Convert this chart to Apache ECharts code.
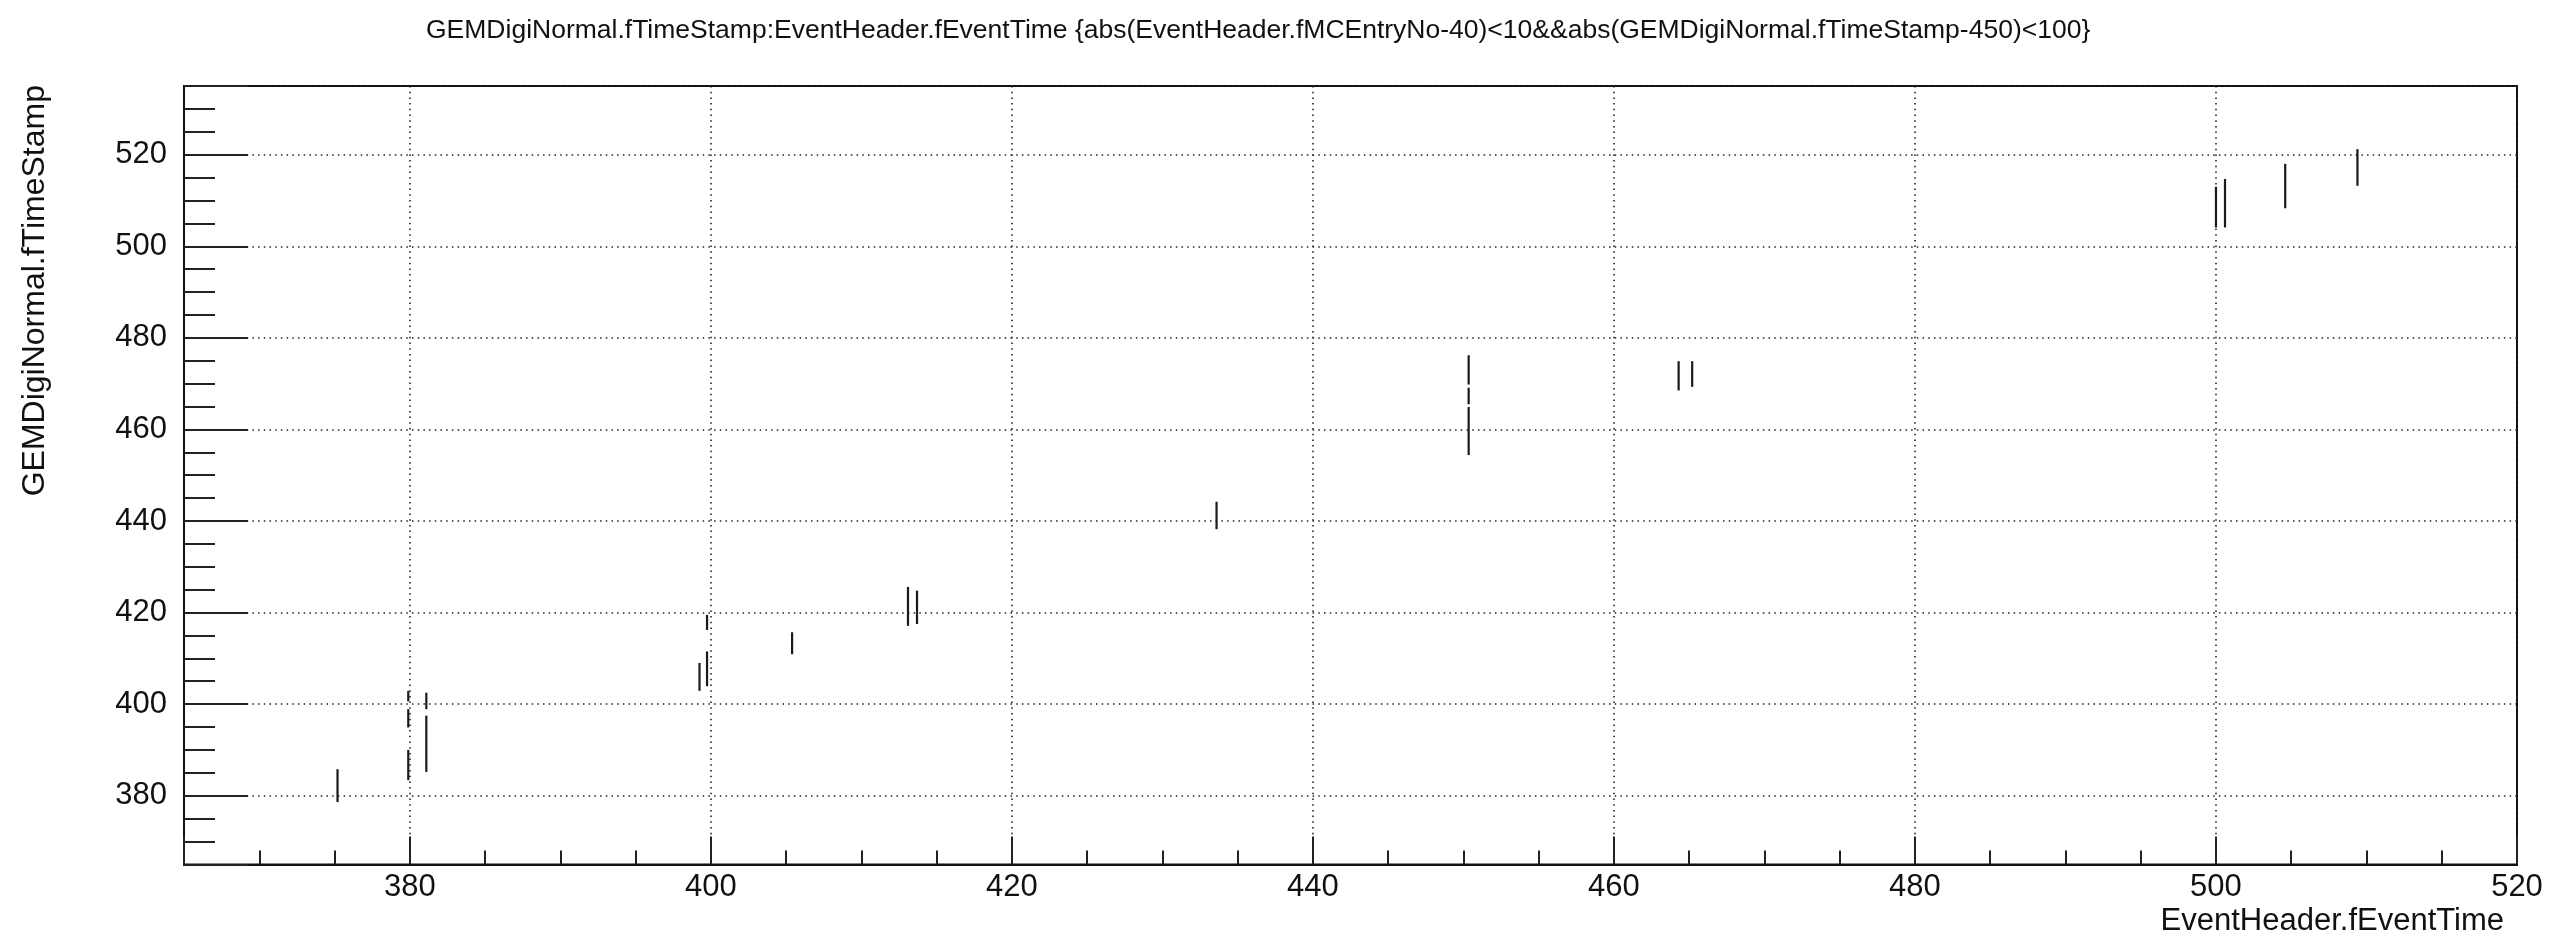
<!DOCTYPE html>
<html>
<head>
<meta charset="utf-8">
<script src="https://cdn.jsdelivr.net/npm/echarts@6/dist/echarts.min.js"></script>
<style>
html, body { margin: 0; padding: 0; background: #fff; }
#main { width: 2566px; height: 938px; }
</style>
</head>
<body>
<div id="main"></div>
<script>
// each mark is a vertical run of hits: x = event time, from stampLow to stampHigh
var eventTime = [375.2, 379.9, 379.9, 379.9, 381.1, 381.1, 399.25, 399.75, 399.75, 405.4, 413.1, 413.7,
  433.6, 450.35, 450.35, 450.35, 464.3, 465.2, 500.0, 500.6, 504.6, 509.4];
var stampLow = [378.6, 383.4, 394.9, 400.6, 385.2, 398.9, 402.9, 403.9, 416.2, 410.9, 417.1, 417.5,
  438.2, 454.4, 465.5, 469.8, 468.5, 469.3, 504.1, 504.1, 508.3, 513.2];
var stampHigh = [385.8, 390.0, 398.9, 402.9, 397.5, 402.5, 409.0, 411.5, 419.5, 415.7, 425.6, 424.8,
  444.2, 464.9, 469.1, 476.2, 474.9, 474.9, 513.0, 514.7, 518.0, 521.2];

var titleText = 'GEMDigiNormal.fTimeStamp:EventHeader.fEventTime {abs(EventHeader.fMCEntryNo-40)<10&&abs(GEMDigiNormal.fTimeStamp-450)<100}';
var xName = 'EventHeader.fEventTime';
var yName = 'GEMDigiNormal.fTimeStamp';

var segData = [];
for (var i = 0; i < eventTime.length; i++) {
  segData.push([eventTime[i], stampLow[i], stampHigh[i]]);
}

var myChart = echarts.init(document.getElementById('main'));
var font = 'Liberation Sans, Arial, sans-serif';

function axisCommon(tickLen, minorLen) {
  return {
    type: 'value',
    minInterval: 20,
    maxInterval: 20,
    splitNumber: 8,
    axisLine: { show: true, onZero: false, lineStyle: { color: '#111', width: 2 } },
    axisTick: { show: true, inside: true, length: tickLen, lineStyle: { color: '#222', width: 2 } },
    minorTick: { show: true, splitNumber: 4, length: minorLen, lineStyle: { color: '#222', width: 2 } },
    splitLine: { show: true, lineStyle: { color: '#222', width: 1.6, type: [1.5, 4.2] } },
    axisLabel: { showMinLabel: false, fontSize: 31, fontFamily: font, color: '#111' }
  };
}

var xAxis = axisCommon(28, 14);
xAxis.min = 365;
xAxis.max = 520;
xAxis.axisLabel.margin = 8;
xAxis.axisLabel.showMaxLabel = true;

var yAxis = axisCommon(64, 31);
yAxis.min = 365;
yAxis.max = 535;
yAxis.axisLabel.margin = 17;
yAxis.axisLabel.showMaxLabel = false;

var option = {
  backgroundColor: '#fff',
  animation: false,
  title: {
    text: titleText,
    left: 421,
    top: 12,
    textStyle: { fontSize: 26.5, fontWeight: 'normal', fontFamily: font, color: '#111' }
  },
  grid: {
    left: 184, right: 49, top: 86, bottom: 73.6,
    show: true, borderColor: '#111', borderWidth: 2,
    outerBoundsMode: 'none'
  },
  xAxis: xAxis,
  yAxis: yAxis,
  graphic: [
    {
      type: 'text', x: 35, y: 85, rotation: Math.PI / 2,
      style: { text: yName, fontSize: 32, fontFamily: font, fill: '#111', align: 'right', verticalAlign: 'middle' }
    },
    {
      type: 'text', x: 2504, y: 921,
      style: { text: xName, fontSize: 31, fontFamily: font, fill: '#111', align: 'right', verticalAlign: 'middle' }
    }
  ],
  series: [{
    type: 'custom',
    data: segData,
    encode: { x: 0, y: [1, 2] },
    renderItem: function (params, api) {
      var p0 = api.coord([api.value(0), api.value(1)]);
      var p1 = api.coord([api.value(0), api.value(2)]);
      return {
        type: 'line',
        shape: { x1: p0[0], y1: p0[1], x2: p1[0], y2: p1[1] },
        style: { stroke: '#1a1a1a', lineWidth: 2.2 }
      };
    }
  }]
};
myChart.setOption(option);
</script>
</body>
</html>
